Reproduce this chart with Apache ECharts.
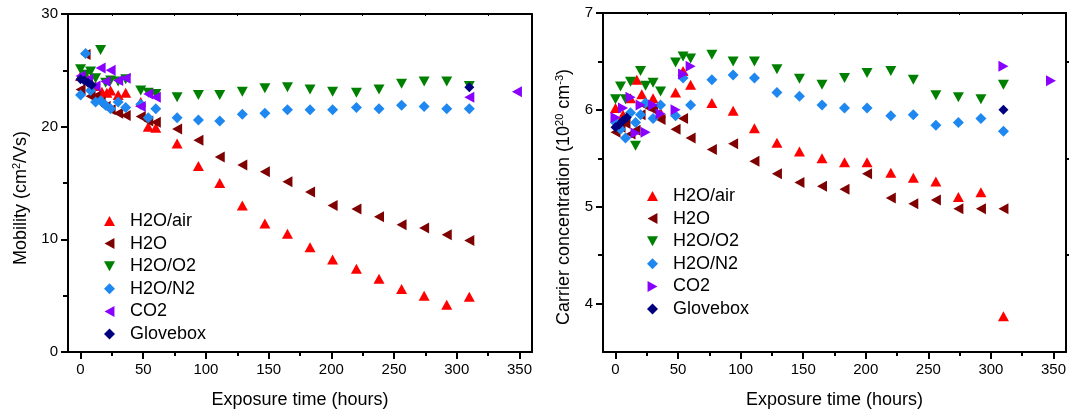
<!DOCTYPE html>
<html>
<head>
<meta charset="utf-8">
<script src="https://cdn.jsdelivr.net/npm/echarts@6/dist/echarts.min.js"></script>
<style>
html,body{margin:0;padding:0;background:#fff;}
#chart{width:1069px;height:414px;}
</style>
</head>
<body>
<div id="chart"></div>
<script>
// ---------- data ----------
const seriesNames = ['H2O/air', 'H2O', 'H2O/O2', 'H2O/N2', 'CO2', 'Glovebox'];
const lateHours = [77, 94, 111, 129, 147, 165, 183, 201, 220, 238, 256, 274, 292, 310];

const hoursAir = [0, 6, 12, 17, 21, 24, 30, 36, 48, 54, 60].concat(lateHours);
const mobAir = [24.5, 24.2, 23.6, 23.1, 23.0, 23.2, 22.8, 23.0, 22.2, 20.0, 19.9, 18.5, 16.5, 15.0, 13.0, 11.4, 10.5, 9.3, 8.2, 7.4, 6.5, 5.6, 5.0, 4.2, 4.9];
const carAir = [6.02, 5.95, 6.12, 6.31, 6.16, 6.08, 6.12, 5.97, 6.18, 6.40, 6.26, 6.07, 5.99, 5.81, 5.66, 5.57, 5.50, 5.46, 5.46, 5.35, 5.30, 5.26, 5.10, 5.15, 3.87];

const hoursH2O = [0, 4, 8, 12, 16, 20, 24, 30, 36, 48, 54, 60].concat(lateHours);
const mobH2O = [23.3, 26.4, 22.7, 22.7, 22.2, 21.8, 21.5, 21.2, 21.0, 20.9, 20.5, 20.4, 19.8, 18.8, 17.3, 16.6, 16.0, 15.1, 14.2, 13.0, 12.7, 12.0, 11.3, 11.0, 10.4, 9.9];
const carH2O = [5.77, 5.82, 5.86, 5.75, 5.79, 5.95, 6.04, 6.00, 5.90, 5.80, 5.91, 5.71, 5.59, 5.65, 5.47, 5.34, 5.25, 5.21, 5.18, 5.34, 5.09, 5.03, 5.07, 4.98, 4.98, 4.98];

const hoursO2 = [0, 4, 8, 12, 16, 20, 24, 30, 36, 48, 54, 60].concat(lateHours);
const mobO2 = [25.1, 24.6, 24.9, 24.3, 26.8, 23.9, 24.1, 24.0, 24.2, 23.2, 23.0, 22.9, 22.6, 22.8, 22.8, 23.1, 23.4, 23.5, 23.3, 23.1, 23.0, 23.3, 23.8, 24.0, 24.0, 23.6];
const carO2 = [6.11, 6.24, 6.11, 6.29, 5.63, 6.40, 6.25, 6.28, 6.19, 6.49, 6.55, 6.53, 6.57, 6.50, 6.50, 6.42, 6.32, 6.26, 6.33, 6.38, 6.40, 6.31, 6.15, 6.13, 6.11, 6.26];

const hoursN2 = [0, 4, 8, 12, 16, 20, 24, 30, 36, 48, 54, 60].concat(lateHours);
const mobN2 = [22.8, 26.5, 23.2, 22.2, 22.3, 21.9, 21.6, 22.2, 21.7, 22.0, 20.8, 21.6, 20.8, 20.6, 20.5, 21.1, 21.2, 21.5, 21.5, 21.5, 21.7, 21.6, 21.9, 21.8, 21.6, 21.6];
const carN2 = [5.87, 5.80, 5.71, 5.97, 5.87, 5.95, 6.07, 5.91, 6.05, 5.94, 6.33, 6.05, 6.31, 6.36, 6.33, 6.18, 6.14, 6.05, 6.02, 6.02, 5.94, 5.95, 5.84, 5.87, 5.91, 5.78];

const hoursCO2 = [0, 6, 12, 16, 20, 24, 30, 36, 48, 54, 60, 310, 348];
const mobCO2 = [24.5, 24.2, 23.6, 25.2, 24.0, 25.0, 24.1, 24.3, 21.8, 22.9, 22.6, 22.6, 23.1];
const carCO2 = [5.92, 6.02, 6.13, 5.76, 6.05, 5.77, 6.05, 5.96, 6.00, 6.37, 6.45, 6.45, 6.30];

const hoursGB = [0, 3, 6, 9, 310];
const mobGB = [24.2, 24.1, 23.9, 23.7, 23.5];
const carGB = [5.82, 5.85, 5.89, 5.92, 6.00];

const xMajorTicks = [0, 50, 100, 150, 200, 250, 300, 350];
const xMinorTicks = [25, 75, 125, 175, 225, 275, 325];
const yRightMajor = [4, 5, 6, 7];
const yRightMinor = [4.5, 5.5, 6.5];

// ---------- styling ----------
const FONT = 'Liberation Sans, Arial, Helvetica, sans-serif';
const colors = ['#ff0000', '#7f0000', '#008000', '#1e88f0', '#8a00ff', '#00007f'];
const TRI_UP = 'path://M5,0L10,9L0,9Z';
const TRI_DOWN = 'path://M0,0L10,0L5,9Z';
const TRI_LEFT = 'path://M0,5L9,0L9,10Z';
const TRI_RIGHT = 'path://M0,0L9,5L0,10Z';
const DIAMOND = 'path://M5,0L10,5L5,10L0,5Z';
const symLeft = [TRI_UP, TRI_LEFT, TRI_DOWN, DIAMOND, TRI_LEFT, DIAMOND];
const symRight = [TRI_UP, TRI_LEFT, TRI_DOWN, DIAMOND, TRI_RIGHT, DIAMOND];
const symSize = [[11, 10], [10, 11], [11, 10], [11, 11], [10, 11], [10, 10]];

const grids = [
  {left: 68, top: 14, width: 464, height: 339},
  {left: 603, top: 13, width: 464, height: 340}
];

function pair(h, v) { return h.map((x, i) => [x, v[i]]); }
const leftData = [pair(hoursAir, mobAir), pair(hoursH2O, mobH2O), pair(hoursO2, mobO2), pair(hoursN2, mobN2), pair(hoursCO2, mobCO2), pair(hoursGB, mobGB)];
const rightData = [pair(hoursAir, carAir), pair(hoursH2O, carH2O), pair(hoursO2, carO2), pair(hoursN2, carN2), pair(hoursCO2, carCO2), pair(hoursGB, carGB)];

const lineStyle = {color: '#000', width: 2};
const labelStyle = {color: '#000', fontSize: 15, fontFamily: FONT};

const xAxes = [], yAxes = [];
[0, 1].forEach(g => {
  xAxes.push({
    type: 'value', gridIndex: g, min: -10, max: 360, position: 'bottom',
    axisLine: {show: true, onZero: false, lineStyle: lineStyle},
    axisTick: {show: true, customValues: xMajorTicks, length: 7, lineStyle: {color: '#000', width: 2}},
    axisLabel: {show: true, customValues: xMajorTicks, margin: 10, ...labelStyle},
    splitLine: {show: false},
    name: 'Exposure time (hours)', nameLocation: 'middle', nameGap: 39,
    nameTextStyle: {fontSize: 18, color: '#000', fontFamily: FONT}
  });
  xAxes.push({
    type: 'value', gridIndex: g, min: -10, max: 360, position: 'bottom',
    axisLine: {show: false, onZero: false},
    axisTick: {show: true, customValues: xMinorTicks, length: 4, lineStyle: {color: '#000', width: 2}},
    axisLabel: {show: false}, splitLine: {show: false}
  });
  xAxes.push({
    type: 'value', gridIndex: g, min: -10, max: 360, position: 'top',
    axisLine: {show: true, onZero: false, lineStyle: lineStyle},
    axisTick: {show: true, inside: true, customValues: xMinorTicks, length: 2, lineStyle: {color: '#000', width: 1}},
    axisLabel: {show: false}, splitLine: {show: false}
  });
});

yAxes.push({
  type: 'value', gridIndex: 0, min: 0, max: 30, interval: 10, position: 'left',
  axisLine: {show: true, onZero: false, lineStyle: lineStyle},
  axisTick: {show: true, length: 7, lineStyle: {color: '#000', width: 2}},
  minorTick: {show: true, splitNumber: 2, length: 5, lineStyle: {color: '#000', width: 2}},
  axisLabel: {show: true, margin: 10, ...labelStyle},
  splitLine: {show: false}
});
yAxes.push({
  type: 'value', gridIndex: 0, min: 0, max: 30, interval: 10, position: 'right',
  axisLine: {show: true, onZero: false, lineStyle: lineStyle},
  axisTick: {show: false}, axisLabel: {show: false}, splitLine: {show: false}
});
yAxes.push({
  type: 'value', gridIndex: 1, min: 3.5, max: 7, position: 'left',
  axisLine: {show: true, onZero: false, lineStyle: lineStyle},
  axisTick: {show: true, customValues: yRightMajor, length: 7, lineStyle: {color: '#000', width: 2}},
  axisLabel: {show: true, customValues: yRightMajor, margin: 10, ...labelStyle},
  splitLine: {show: false}
});
yAxes.push({
  type: 'value', gridIndex: 1, min: 3.5, max: 7, position: 'left',
  axisLine: {show: false, onZero: false},
  axisTick: {show: true, customValues: yRightMinor, length: 5, lineStyle: {color: '#000', width: 2}},
  axisLabel: {show: false}, splitLine: {show: false}
});
yAxes.push({
  type: 'value', gridIndex: 1, min: 3.5, max: 7, position: 'right',
  axisLine: {show: true, onZero: false, lineStyle: lineStyle},
  axisTick: {show: true, customValues: yRightMinor, length: 3, lineStyle: {color: '#000', width: 2}},
  axisLabel: {show: false}, splitLine: {show: false}
});

const series = [];
seriesNames.forEach((name, i) => {
  series.push({
    name: name, type: 'scatter', xAxisIndex: 0, yAxisIndex: 0,
    symbol: symLeft[i], symbolSize: symSize[i],
    itemStyle: {color: colors[i], opacity: 1},
    data: leftData[i], z: 2 + i, silent: true
  });
});
seriesNames.forEach((name, i) => {
  series.push({
    name: name, type: 'scatter', xAxisIndex: 3, yAxisIndex: 2,
    symbol: symRight[i], symbolSize: symSize[i],
    itemStyle: {color: colors[i], opacity: 1},
    data: rightData[i], z: 2 + i, silent: true
  });
});

function legendFor(left, top, syms) {
  return {
    orient: 'vertical', left: left, top: top,
    itemWidth: 11, itemHeight: 11, itemGap: 2.6,
    selectedMode: false,
    textStyle: {fontSize: 18, color: '#000', fontFamily: FONT, lineHeight: 20, padding: [0, 0, 0, 10]},
    data: seriesNames.map((n, i) => ({name: n, icon: syms[i], itemStyle: {color: colors[i]}}))
  };
}

const option = {
  animation: false,
  backgroundColor: '#fff',
  grid: grids,
  xAxis: xAxes,
  yAxis: yAxes,
  legend: [legendFor(99, 206, symLeft), legendFor(642, 181, symRight)],
  graphic: [
    {
      type: 'text', x: 21, y: 198, rotation: Math.PI / 2,
      style: {
        text: 'Mobility (cm{sup|2}/Vs)', fontSize: 18, fontFamily: FONT, fill: '#000',
        align: 'center', verticalAlign: 'middle',
        rich: {sup: {fontSize: 11, fontFamily: FONT, padding: [0, 0, 9, 0]}}
      }
    },
    {
      type: 'text', x: 564, y: 197, rotation: Math.PI / 2,
      style: {
        text: 'Carrier concentration (10{sup|20} cm{sup|-3})', fontSize: 18, fontFamily: FONT, fill: '#000',
        align: 'center', verticalAlign: 'middle',
        rich: {sup: {fontSize: 11, fontFamily: FONT, padding: [0, 0, 9, 0]}}
      }
    }
  ],
  series: series
};

const chart = echarts.init(document.getElementById('chart'), null, {renderer: 'canvas'});
chart.setOption(option);
</script>
</body>
</html>
